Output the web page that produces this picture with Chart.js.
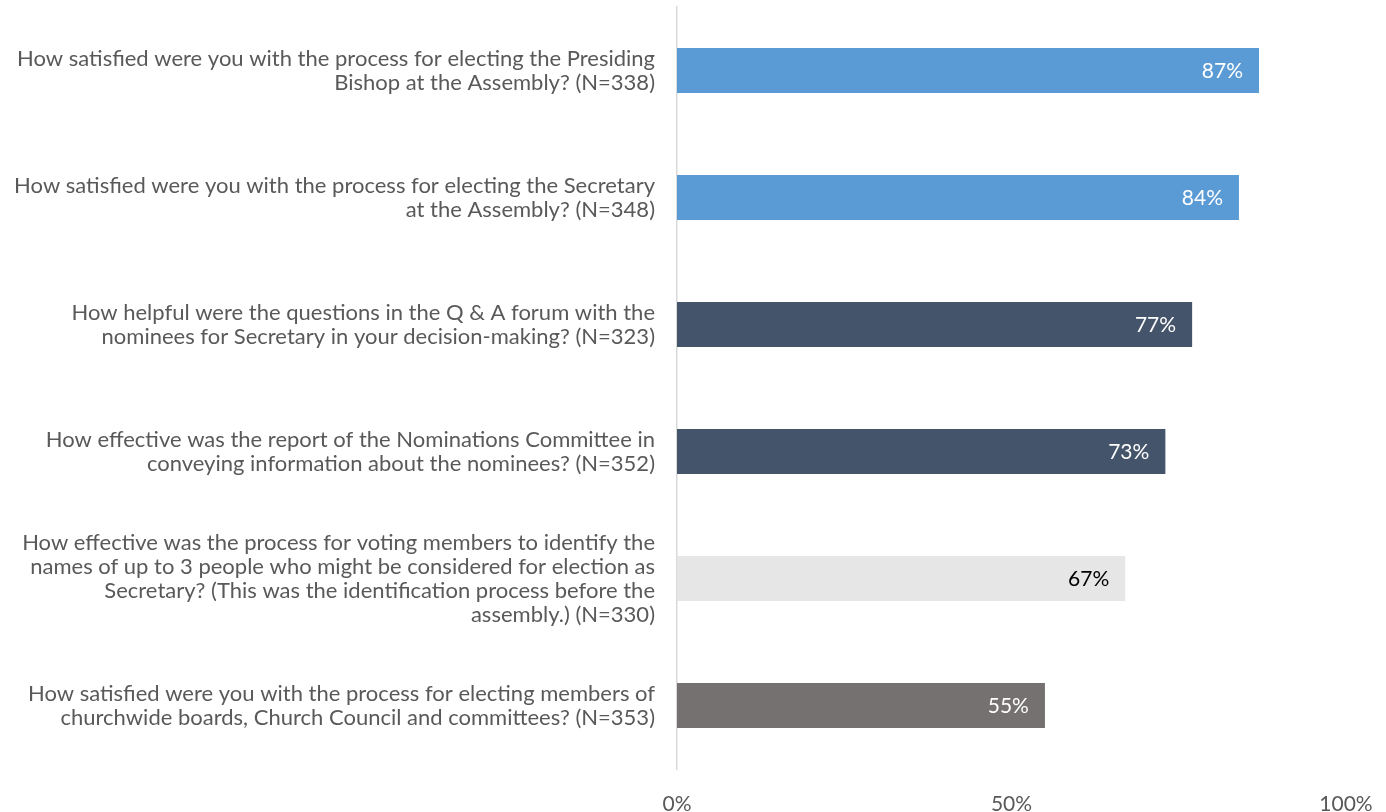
<!DOCTYPE html>
<html>
<head>
<meta charset="utf-8">
<script src="https://cdn.jsdelivr.net/npm/chart.js@4.4.1/dist/chart.umd.min.js"></script>
<style>
    html, body { margin: 0; padding: 0; background: #fff; }
    #wrap { width: 1386px; height: 812px; position: relative; }
</style>
</head>
<body>
<div id="wrap"><canvas id="surveyChart"></canvas></div>
<script>
const questions = [
    ['How satisfied were you with the process for electing the Presiding', 'Bishop at the Assembly? (N=338)'],
    ['How satisfied were you with the process for electing the Secretary', 'at the Assembly? (N=348)'],
    ['How helpful were the questions in the Q & A forum with the', 'nominees for Secretary in your decision-making? (N=323)'],
    ['How effective was the report of the Nominations Committee in', 'conveying information about the nominees? (N=352)'],
    ['How effective was the process for voting members to identify the', 'names of up to 3 people who might be considered for election as', 'Secretary? (This was the identification process before the', 'assembly.) (N=330)'],
    ['How satisfied were you with the process for electing members of', 'churchwide boards, Church Council and committees? (N=353)']
];
const percentValues = [87, 84, 77, 73, 67, 55];
const barColors = ['#5B9BD5', '#5B9BD5', '#44546A', '#44546A', '#E7E6E6', '#767171'];
const valueTextColors = ['#FFFFFF', '#FFFFFF', '#FFFFFF', '#FFFFFF', '#000000', '#FFFFFF'];
const xTicks = [0, 50, 100];

const FONT = 'Lato, "Open Sans", sans-serif';

// draws the value inside the end of each bar
const barValuePlugin = {
    id: 'barValues',
    afterDatasetsDraw(chart) {
        const ctx = chart.ctx;
        const meta = chart.getDatasetMeta(0);
        ctx.save();
        ctx.font = '21px ' + FONT;
        ctx.textAlign = 'right';
        ctx.textBaseline = 'middle';
        meta.data.forEach((bar, i) => {
            ctx.fillStyle = valueTextColors[i];
            ctx.fillText(percentValues[i] + '%', bar.x - 16, bar.y + 1);
        });
        ctx.restore();
    }
};

const surveyChartConfig = {
    type: 'bar',
    data: {
        labels: questions,
        datasets: [{
            data: percentValues,
            backgroundColor: barColors,
            borderWidth: 0,
            barPercentage: 0.355,
            categoryPercentage: 1
        }]
    },
    options: {
        indexAxis: 'y',
        responsive: true,
        maintainAspectRatio: false,
        animation: false,
        layout: {
            padding: { top: 7, right: 40, left: 0, bottom: 0 }
        },
        scales: {
            x: {
                min: 0,
                max: 100,
                afterBuildTicks: (scale) => {
                    scale.ticks = xTicks.map(v => ({ value: v }));
                },
                afterFit: (scale) => {
                    scale.height = 43;
                    scale.paddingLeft = 0;
                    scale.paddingRight = 0;
                },
                grid: { display: false, drawTicks: false },
                border: { display: false },
                ticks: {
                    padding: 23,
                    color: '#595959',
                    font: { family: FONT, size: 21 },
                    callback: (v) => v + '%'
                }
            },
            y: {
                afterFit: (scale) => {
                    scale.width = 677;
                    scale.paddingTop = 0;
                    scale.paddingBottom = 0;
                },
                grid: { display: false, drawTicks: false },
                border: { display: true, color: '#D9D9D9', width: 1.5 },
                ticks: {
                    padding: 22,
                    color: '#595959',
                    font: { family: FONT, size: 22, lineHeight: '24px' }
                }
            }
        },
        plugins: {
            legend: { display: false },
            tooltip: { enabled: false },
            title: { display: false }
        }
    },
    plugins: [barValuePlugin]
};

let surveyChart;
window.addEventListener('load', () => {
    const ctx = document.getElementById('surveyChart').getContext('2d');
    surveyChart = new Chart(ctx, surveyChartConfig);
});
</script>
</body>
</html>
